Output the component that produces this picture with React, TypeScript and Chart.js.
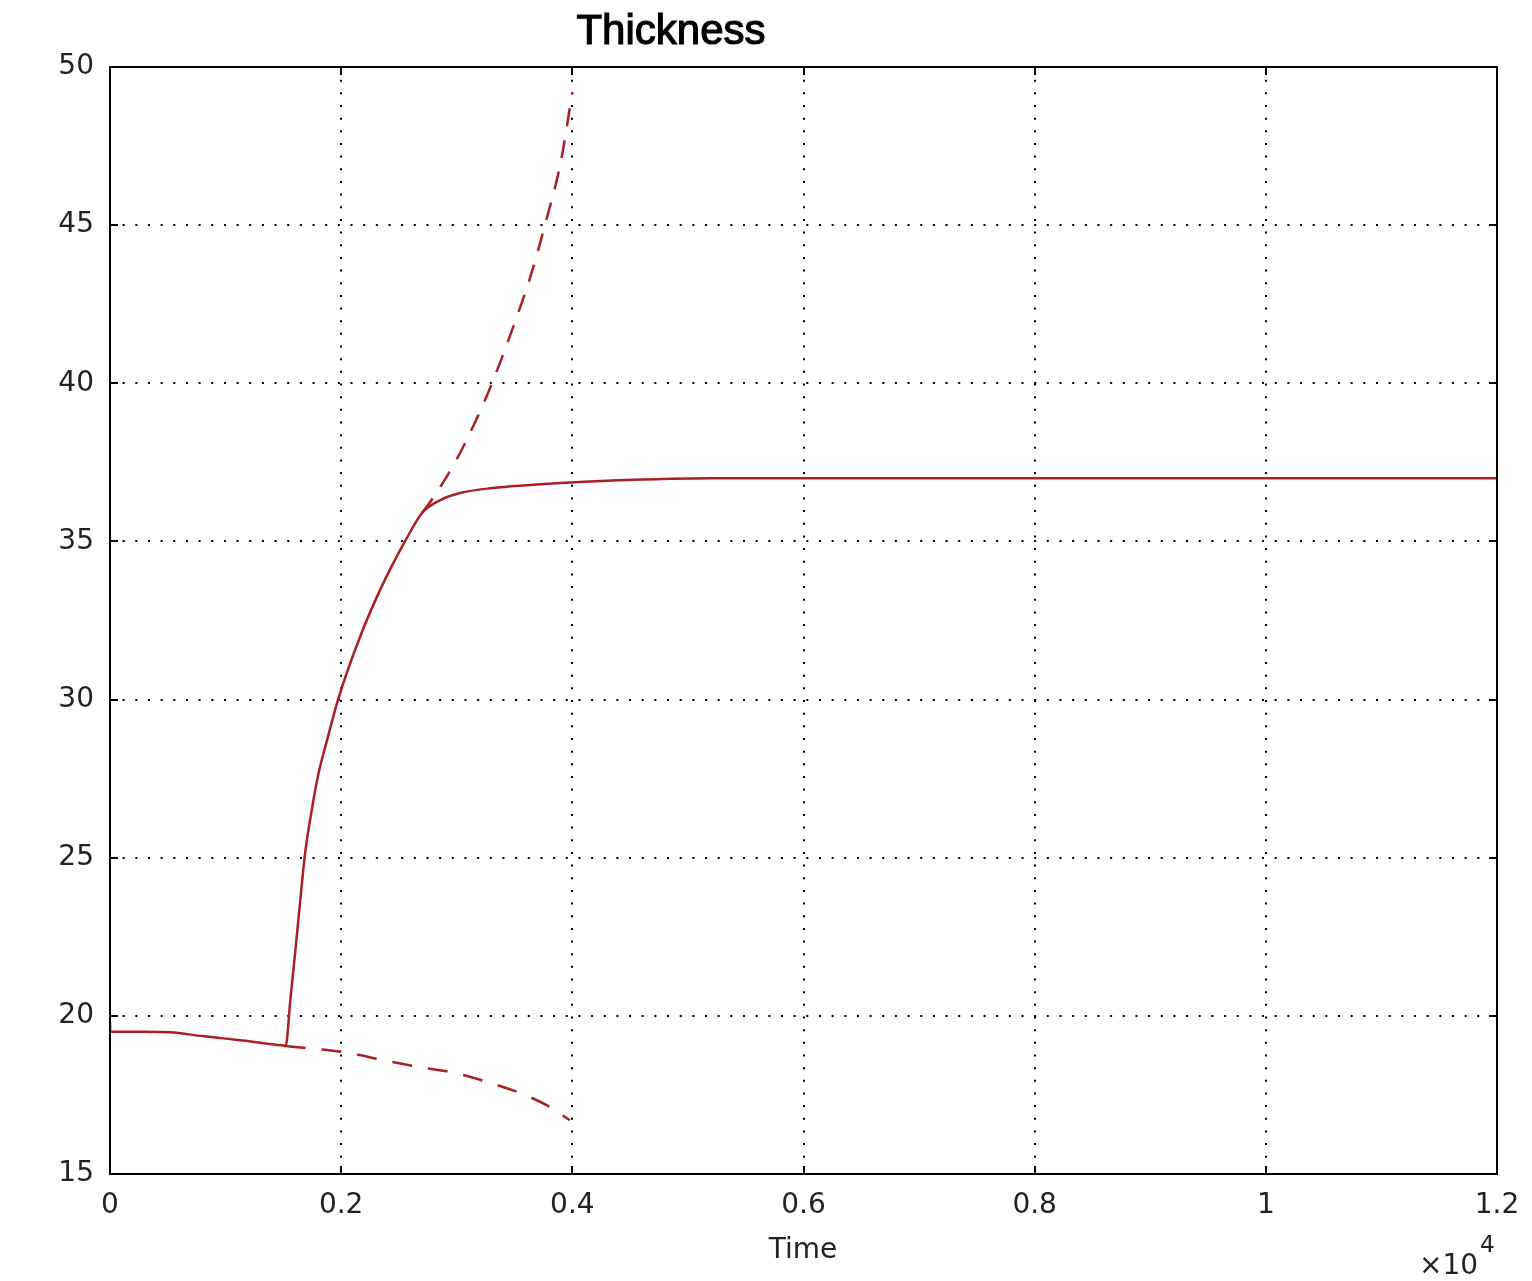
import React, { useEffect, useRef } from "react";
import { Chart, registerables } from "chart.js";

Chart.register(...registerables);

const titleText = "Thickness";
const xAxisTitle = "Time";
const xTickLabels = ["0", "0.2", "0.4", "0.6", "0.8", "1", "1.2"];
const yTicks = [15, 20, 25, 30, 35, 40, 45, 50];

// solid trajectory
const solidT = [0, 1, 300, 520, 800, 1000, 1200, 1400, 1500, 1520, 1560, 1610, 1650, 1690, 1750, 1800, 1877, 1973, 2163, 2336, 2449, 2552, 2700, 2855, 3028, 3314, 3608, 3893, 4300, 5200, 8000, 12000];
const solidY = [19.8, 19.5, 19.5, 19.48, 19.36, 19.28, 19.2, 19.1, 19.06, 19.05, 20.5, 22.3, 23.8, 25.2, 26.6, 27.6, 28.7, 30.0, 31.98, 33.46, 34.3, 35.0, 35.9, 36.3, 36.53, 36.69, 36.78, 36.85, 36.92, 37.0, 37.0, 37.0];

// dashed upper branch
const upperT = [2700, 2800, 3000, 3150, 3305, 3500, 3640, 3763, 3900, 4000];
const upperY = [35.9, 36.4, 37.6, 38.7, 40.0, 41.9, 43.4, 45.0, 47.0, 49.2];

// dashed lower branch
const lowerT = [1520, 1705, 2060, 2363, 2682, 2985, 3270, 3547, 3807, 3979];
const lowerY = [19.05, 18.98, 18.83, 18.6, 18.38, 18.19, 17.9, 17.56, 17.12, 16.7];

const lineColor = "#a91f24";
const tickFont = { family: "'DejaVu Sans', sans-serif", size: 28 };

const toPts = (t: number[], y: number[]) => t.map((v, i) => ({ x: v, y: y[i] }));

const decorPlugin = {
  id: "decor",
  afterDraw(chart: any) {
    const { ctx, chartArea: a, scales } = chart;
    ctx.save();
    ctx.strokeStyle = "#000";
    ctx.lineWidth = 2;
    ctx.strokeRect(a.left, a.top, a.right - a.left, a.bottom - a.top);
    const xs = scales.x;
    const ys = scales.y;
    xs.ticks.forEach((t: any) => {
      const px = Math.round(xs.getPixelForValue(t.value));
      ctx.beginPath();
      ctx.moveTo(px, a.bottom);
      ctx.lineTo(px, a.bottom - 8);
      ctx.moveTo(px, a.top);
      ctx.lineTo(px, a.top + 8);
      ctx.stroke();
    });
    ys.ticks.forEach((t: any) => {
      const py = Math.round(ys.getPixelForValue(t.value));
      ctx.beginPath();
      ctx.moveTo(a.left, py);
      ctx.lineTo(a.left + 8, py);
      ctx.moveTo(a.right, py);
      ctx.lineTo(a.right - 8, py);
      ctx.stroke();
    });
    // title
    ctx.fillStyle = "#000";
    ctx.strokeStyle = "#000";
    ctx.lineWidth = 1.2;
    ctx.font = "42px 'Liberation Sans', Arial, sans-serif";
    ctx.textAlign = "center";
    ctx.textBaseline = "alphabetic";
    ctx.fillText(titleText, 671, 44);
    ctx.strokeText(titleText, 671, 44);
    // x axis title
    ctx.fillStyle = "#222";
    ctx.font = "28px 'DejaVu Sans', sans-serif";
    ctx.fillText(xAxisTitle, 803, 1258);
    // exponent
    ctx.textAlign = "left";
    ctx.fillText("\u00d710", 1419, 1274);
    ctx.font = "23px 'DejaVu Sans', sans-serif";
    ctx.fillText("4", 1480, 1252);
    ctx.restore();
  },
};

export default function App() {
  const ref = useRef<HTMLCanvasElement | null>(null);
  useEffect(() => {
    if (!ref.current) return;
    const chart = new Chart(ref.current, {
      type: "line",
      data: {
        datasets: [
          {
            data: toPts(solidT, solidY),
            borderColor: lineColor,
            borderWidth: 2.5,
            pointRadius: 0,
            cubicInterpolationMode: "monotone",
          },
          {
            data: toPts(upperT, upperY),
            borderColor: lineColor,
            borderWidth: 2.5,
            borderDash: [18, 14],
            pointRadius: 0,
            cubicInterpolationMode: "monotone",
          },
          {
            data: toPts(lowerT, lowerY),
            borderColor: lineColor,
            borderWidth: 2.5,
            borderDash: [20, 16],
            pointRadius: 0,
            cubicInterpolationMode: "monotone",
          },
        ],
      },
      options: {
        animation: false,
        responsive: false,
        maintainAspectRatio: false,
        parsing: false as any,
        layout: { padding: { left: 0, right: 35, top: 67, bottom: 0 } },
        plugins: {
          legend: { display: false },
          tooltip: { enabled: false },
          title: { display: false },
        },
        scales: {
          x: {
            type: "linear",
            min: 0,
            max: 12000,
            afterBuildTicks: (s: any) => {
              s.ticks = xTickLabels.map((_, i) => ({ value: i * 2000 }));
            },
            afterFit: (s: any) => {
              s.height = 107;
              s.paddingLeft = 0;
              s.paddingRight = 0;
            },
            ticks: {
              callback: (_v: any, i: number) => xTickLabels[i],
              font: tickFont,
              color: "#222",
              padding: 15,
              maxRotation: 0,
              autoSkip: false,
            },
            grid: {
              color: "#000",
              lineWidth: 2,
              drawTicks: false,
            },
            border: { display: false, dash: [2, 10.66] } as any,
          },
          y: {
            type: "linear",
            min: 15,
            max: 50,
            afterBuildTicks: (s: any) => {
              s.ticks = yTicks.map((v) => ({ value: v }));
            },
            afterFit: (s: any) => {
              s.width = 110;
              s.paddingTop = 0;
              s.paddingBottom = 0;
            },
            ticks: {
              callback: (v: any) => String(v),
              font: tickFont,
              color: "#222",
              padding: 16,
              autoSkip: false,
            },
            grid: {
              color: "#000",
              lineWidth: 2,
              drawTicks: false,
            },
            border: { display: false, dash: [2, 10.66] } as any,
          },
        },
      },
      plugins: [decorPlugin],
    });
    return () => chart.destroy();
  }, []);
  return (
    <div style={{ position: "fixed", left: 0, top: 0, width: 1532, height: 1281, background: "#fff" }}>
      <canvas ref={ref} width={1532} height={1281} style={{ display: "block" }} />
    </div>
  );
}
